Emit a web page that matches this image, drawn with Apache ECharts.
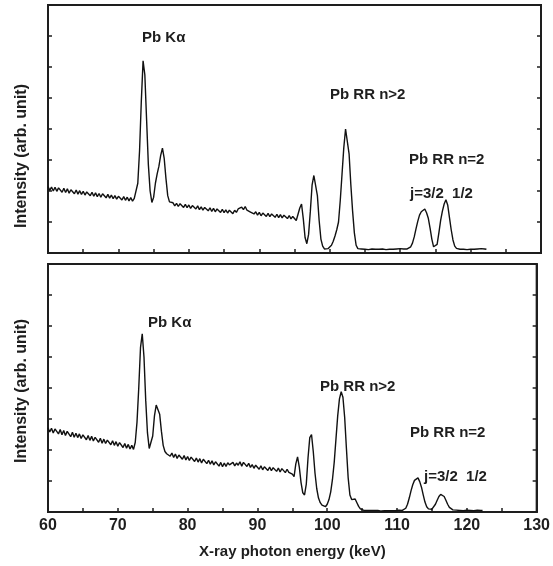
<!DOCTYPE html>
<html>
<head>
<meta charset="UTF-8">
<title>Pb spectrum</title>
<script src="https://cdn.jsdelivr.net/npm/echarts@6/dist/echarts.min.js"></script>
<style>
  html, body { margin: 0; padding: 0; background: #fff; }
  #chart { width: 553px; height: 566px; }
</style>
</head>
<body>
<div id="chart"></div>
<script>
// photon energy of each channel (keV)
var energy = [
  60,60.25,60.5,60.75,61,61.25,61.5,61.75,62,62.25,
  62.5,62.75,63,63.25,63.5,63.75,64,64.25,64.5,64.75,
  65,65.25,65.5,65.75,66,66.25,66.5,66.75,67,67.25,
  67.5,67.75,68,68.25,68.5,68.75,69,69.25,69.5,69.75,
  70,70.25,70.5,70.75,71,71.25,71.5,71.75,72,72.25,
  72.5,72.75,73,73.25,73.5,73.75,74,74.25,74.5,74.75,
  75,75.25,75.5,75.75,76,76.25,76.5,76.75,77,77.25,
  77.5,77.75,78,78.25,78.5,78.75,79,79.25,79.5,79.75,
  80,80.25,80.5,80.75,81,81.25,81.5,81.75,82,82.25,
  82.5,82.75,83,83.25,83.5,83.75,84,84.25,84.5,84.75,
  85,85.25,85.5,85.75,86,86.25,86.5,86.75,87,87.25,
  87.5,87.75,88,88.25,88.5,88.75,89,89.25,89.5,89.75,
  90,90.25,90.5,90.75,91,91.25,91.5,91.75,92,92.25,
  92.5,92.75,93,93.25,93.5,93.75,94,94.25,94.5,94.75,
  95,95.25,95.5,95.75,96,96.25,96.5,96.75,97,97.25,
  97.5,97.75,98,98.25,98.5,98.75,99,99.25,99.5,99.75,
  100,100.25,100.5,100.75,101,101.25,101.5,101.75,102,102.25,
  102.5,102.75,103,103.25,103.5,103.75,104,104.25,104.5,104.75,
  105,105.25,105.5,105.75,106,106.25,106.5,106.75,107,107.25,
  107.5,107.75,108,108.25,108.5,108.75,109,109.25,109.5,109.75,
  110,110.25,110.5,110.75,111,111.25,111.5,111.75,112,112.25,
  112.5,112.75,113,113.25,113.5,113.75,114,114.25,114.5,114.75,
  115,115.25,115.5,115.75,116,116.25,116.5,116.75,117,117.25,
  117.5,117.75,118,118.25,118.5,118.75,119,119.25,119.5,119.75,
  120,120.25,120.5,120.75,121,121.25,121.5,121.75,122,122.25
];

// upper spectrum (arb. unit)
var intensityTop = [
  2.14,2.02,2.13,2.00,2.12,1.99,2.10,2.06,1.96,2.09,
  1.95,2.07,1.93,2.04,1.98,1.91,2.03,1.90,2.01,1.89,
  1.99,1.87,1.97,1.92,1.85,1.96,1.83,1.94,1.82,1.92,
  1.80,1.91,1.86,1.78,1.89,1.77,1.87,1.75,1.85,1.74,
  1.83,1.77,1.71,1.82,1.70,1.80,1.68,1.79,1.67,1.76,
  1.80,2.25,3.30,4.90,6.20,5.75,4.30,2.85,2.00,1.63,
  1.80,2.25,2.55,2.80,3.15,3.38,3.05,2.40,1.85,1.65,
  1.60,1.62,1.52,1.60,1.50,1.59,1.53,1.47,1.57,1.46,
  1.55,1.44,1.53,1.48,1.42,1.52,1.40,1.49,1.38,1.47,
  1.42,1.36,1.46,1.34,1.44,1.33,1.42,1.37,1.31,1.41,
  1.30,1.39,1.29,1.38,1.33,1.27,1.38,1.31,1.42,1.36,
  1.48,1.40,1.50,1.38,1.44,1.32,1.38,1.26,1.33,1.22,
  1.31,1.20,1.29,1.24,1.18,1.28,1.17,1.26,1.21,1.15,
  1.25,1.14,1.24,1.13,1.22,1.17,1.11,1.21,1.10,1.18,
  1.12,1.05,1.05,1.45,1.58,1.10,0.50,0.30,0.60,1.35,
  2.20,2.50,2.50,1.85,1.05,0.45,0.22,0.13,0.12,0.14,
  0.18,0.25,0.38,0.55,0.75,1.00,1.70,2.55,3.40,4.00,
  3.95,3.20,2.20,1.35,0.65,0.25,0.14,0.12,0.13,0.11,
  0.12,0.14,0.11,0.12,0.13,0.11,0.12,0.14,0.12,0.11,
  0.13,0.12,0.11,0.13,0.12,0.14,0.12,0.11,0.13,0.12,
  0.14,0.12,0.13,0.12,0.13,0.16,0.20,0.32,0.52,0.78,
  1.02,1.22,1.33,1.38,1.42,1.30,1.12,0.80,0.45,0.20,
  0.14,0.28,0.65,1.05,1.35,1.58,1.72,1.55,1.15,0.75,
  0.42,0.22,0.15,0.13,0.12,0.14,0.12,0.13,0.11,0.13,
  0.12,0.14,0.12,0.11,0.13,0.12,0.14,0.12,0.13,0.12
];

// lower spectrum (arb. unit)
var intensityBottom = [
  2.72,2.58,2.70,2.55,2.68,2.62,2.52,2.66,2.49,2.63,
  2.47,2.60,2.56,2.43,2.57,2.41,2.54,2.40,2.52,2.37,
  2.49,2.44,2.33,2.47,2.31,2.44,2.29,2.41,2.37,2.25,
  2.38,2.22,2.35,2.21,2.32,2.27,2.17,2.30,2.15,2.27,
  2.12,2.24,2.19,2.08,2.21,2.06,2.18,2.03,2.15,2.02,
  2.25,2.90,4.00,5.30,5.75,5.00,3.60,2.55,2.05,2.00,
  2.45,3.10,3.45,3.50,3.15,2.60,2.15,1.95,1.88,1.84,
  1.80,1.90,1.76,1.87,1.73,1.84,1.78,1.70,1.82,1.68,
  1.79,1.66,1.77,1.71,1.63,1.74,1.61,1.72,1.58,1.70,
  1.64,1.56,1.67,1.54,1.65,1.52,1.62,1.57,1.48,1.60,
  1.46,1.58,1.47,1.59,1.52,1.46,1.60,1.49,1.58,1.51,
  1.62,1.48,1.60,1.54,1.47,1.57,1.44,1.53,1.41,1.51,
  1.45,1.38,1.49,1.36,1.46,1.40,1.34,1.45,1.33,1.43,
  1.37,1.31,1.42,1.29,1.40,1.34,1.27,1.38,1.28,1.33,
  1.22,1.14,1.55,1.78,1.45,0.95,0.62,0.55,0.90,1.75,
  2.40,2.50,1.95,1.25,0.75,0.45,0.30,0.22,0.18,0.17,
  0.25,0.40,0.65,1.05,1.60,2.35,3.10,3.65,3.88,3.70,
  3.05,2.05,1.10,0.55,0.40,0.45,0.42,0.30,0.18,0.10,
  0.07,0.05,0.04,0.05,0.04,0.05,0.03,0.05,0.04,0.05,
  0.04,0.03,0.05,0.04,0.05,0.04,0.06,0.04,0.05,0.04,
  0.05,0.06,0.05,0.05,0.07,0.12,0.25,0.45,0.68,0.88,
  1.02,1.08,1.10,0.98,0.80,0.55,0.32,0.17,0.10,0.08,
  0.09,0.15,0.25,0.38,0.50,0.57,0.58,0.50,0.38,0.25,
  0.15,0.09,0.07,0.05,0.06,0.04,0.05,0.06,0.04,0.05,
  0.06,0.04,0.05,0.06,0.04,0.05,0.06,0.04,0.05,0.05
];

var xLabels = [60, 70, 80, 90, 100, 110, 120, 130];

var chart = echarts.init(document.getElementById('chart'));

var FONT = 'Arial, "Liberation Sans", Helvetica, sans-serif';
var INK = '#1e1e1e';

function pairs(ys) {
  return energy.map(function (e, i) { return [e, ys[i]]; });
}

function xAxisFor(grid, withLabels) {
  return {
    type: 'value', gridIndex: grid, min: 60, max: 130, interval: 5,
    axisLine: { show: true, onZero: false, lineStyle: { color: INK, width: 2 } },
    axisTick: { show: true, inside: true, length: 4, lineStyle: { color: INK, width: 1.5 } },
    axisLabel: {
      show: withLabels, margin: 6, color: INK, fontSize: 16, fontWeight: 'bold', fontFamily: FONT,
      formatter: function (v) { return xLabels.indexOf(v) >= 0 ? String(v) : ''; }
    },
    splitLine: { show: false },
    name: withLabels ? 'X-ray photon energy (keV)' : '',
    nameLocation: 'middle', nameGap: 32,
    nameTextStyle: { color: INK, fontSize: 15, fontWeight: 'bold', fontFamily: FONT }
  };
}

function yAxisFor(grid, side, pad) {
  return {
    type: 'value', gridIndex: grid, position: side, min: 0, max: 8, interval: 1,
    axisLine: { show: true, lineStyle: { color: INK, width: 2 } },
    axisTick: { show: true, inside: true, length: 4, lineStyle: { color: INK, width: 1.5 } },
    axisLabel: { show: false },
    splitLine: { show: false },
    name: side === 'left' ? 'Intensity (arb. unit)' : '',
    nameLocation: 'middle', nameGap: 18, nameRotate: 90,
    nameTextStyle: { color: INK, fontSize: 16, fontWeight: 'bold', fontFamily: FONT, padding: [0, pad, 0, 0] }
  };
}

function note(text, left, top) {
  return {
    type: 'text', left: left, top: top,
    style: { text: text, fill: INK, font: 'bold 15px ' + FONT }
  };
}

var option = {
  animation: false,
  backgroundColor: '#fff',
  grid: [
    { left: 48, right: 12, top: 5, height: 248, show: true, borderColor: INK, borderWidth: 2 },
    { left: 48, right: 12, top: 264, height: 248, show: true, borderColor: INK, borderWidth: 2 }
  ],
  xAxis: [xAxisFor(0, false), xAxisFor(1, true)],
  yAxis: [
    yAxisFor(0, 'left', 54), yAxisFor(0, 'right', 0),
    yAxisFor(1, 'left', 6), yAxisFor(1, 'right', 0)
  ],
  series: [
    {
      type: 'line', xAxisIndex: 0, yAxisIndex: 0, data: pairs(intensityTop),
      showSymbol: false, lineStyle: { color: '#111', width: 1.4 }
    },
    {
      type: 'line', xAxisIndex: 1, yAxisIndex: 2, data: pairs(intensityBottom),
      showSymbol: false, lineStyle: { color: '#111', width: 1.4 }
    }
  ],
  graphic: [
    note('Pb K\u03b1', 142, 30),
    note('Pb RR n>2', 330, 87),
    note('Pb RR n=2', 409, 152),
    note('j=3/2  1/2', 410, 186),
    note('Pb K\u03b1', 148, 315),
    note('Pb RR n>2', 320, 379),
    note('Pb RR n=2', 410, 425),
    note('j=3/2  1/2', 424, 469)
  ]
};

chart.setOption(option);
</script>
</body>
</html>
